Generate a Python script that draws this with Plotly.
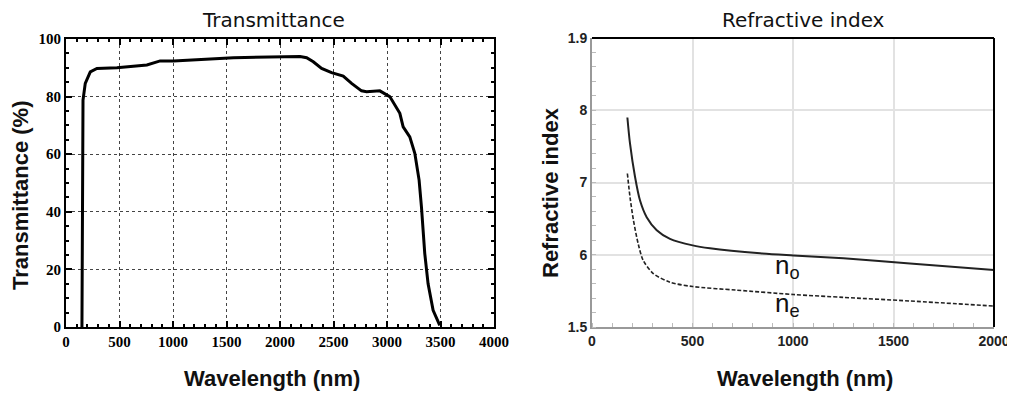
import plotly.graph_objects as go

# transmittance curve
wl_t = [149, 159, 180, 227, 289, 476, 756, 880, 1005, 1253, 1565, 2187, 2249, 2311,
        2389, 2482, 2591, 2669, 2762, 2809, 2933, 3026, 3120, 3151, 3213, 3260, 3300,
        3322, 3353, 3384, 3431, 3493]
trans = [0, 78.8, 84.6, 88.6, 89.8, 90.0, 91.0, 92.4, 92.4, 93.0, 93.5, 93.9, 93.5, 92.1,
         89.8, 88.3, 87.1, 84.6, 82.0, 81.7, 82.0, 80.0, 74.2, 69.5, 66.0, 60.3, 51.0,
         41.7, 25.5, 15.0, 5.8, 0.6]

# refractive index curves (right panel)
wl_o = [176, 189, 214, 239, 272, 322, 388, 501, 587, 836, 1002, 1251, 1582, 2000]
n_o = [1.790, 1.754, 1.708, 1.675, 1.652, 1.634, 1.622, 1.613, 1.609, 1.602, 1.599,
       1.595, 1.588, 1.579]
wl_e = [176, 189, 206, 230, 255, 305, 388, 501, 720, 1002, 1251, 1582, 2000]
n_e = [1.7125, 1.680, 1.648, 1.615, 1.592, 1.574, 1.562, 1.556, 1.551, 1.545, 1.541,
       1.536, 1.529]

x_ticks_t = [0, 500, 1000, 1500, 2000, 2500, 3000, 3500, 4000]
y_ticks_t = [0, 20, 40, 60, 80, 100]
x_ticks_n = [0, 500, 1000, 1500, 2000]
y_ticks_n = [1.5, 1.6, 1.7, 1.8, 1.9]
y_labels_n = ["1.5", "6", "7", "8", "1.9"]

W, H = 1007, 392   # page body adds an 8px offset


def px(x):
    return (x - 8) / W


def py(y):
    return 1 - (y - 8) / H


serif_bold = dict(family="Liberation Serif", size=15, color="black", weight="bold")
sans_bold = dict(family="Liberation Sans", size=14, color="#222", weight="bold")
title_font = dict(family="Liberation Sans", size=22, color="#111", weight="bold")
head = dict(family="DejaVu Sans", size=20, color="#111")

fig = go.Figure()
fig.add_trace(go.Scatter(x=wl_t, y=trans, mode="lines", line=dict(color="black", width=3),
                         xaxis="x", yaxis="y", showlegend=False))
fig.add_trace(go.Scatter(x=wl_o, y=n_o, mode="lines",
                         line=dict(color="#222", width=2, shape="spline", smoothing=0.8),
                         xaxis="x2", yaxis="y2", showlegend=False))
fig.add_trace(go.Scatter(x=wl_e, y=n_e, mode="lines",
                         line=dict(color="#222", width=1.6, dash="4px,2px", shape="spline", smoothing=0.8),
                         xaxis="x2", yaxis="y2", showlegend=False))

fig.update_layout(
    width=W, height=H, margin=dict(l=0, r=0, t=0, b=0),
    paper_bgcolor="white", plot_bgcolor="white",
    xaxis=dict(domain=[px(66), px(494)], range=[0, 4000], tickvals=x_ticks_t,
               showline=True, linecolor="black", linewidth=2, mirror="allticks",
               ticks="inside", ticklen=6, tickwidth=1.5, tickcolor="black",
               minor=dict(dtick=100, ticks="inside", ticklen=3, tickcolor="black"),
               showgrid=True, gridcolor="#444", griddash="dot", gridwidth=1,
               tickfont=serif_bold, zeroline=False, anchor="y", automargin=False),
    yaxis=dict(domain=[py(327), py(39)], range=[0, 100], tickvals=y_ticks_t,
               showline=True, linecolor="black", linewidth=2, mirror="allticks",
               ticks="inside", ticklen=6, tickwidth=1.5, tickcolor="black",
               minor=dict(dtick=5, ticks="inside", ticklen=3, tickcolor="black"),
               showgrid=True, gridcolor="#444", griddash="dot", gridwidth=1,
               tickfont=serif_bold, zeroline=False, anchor="x", automargin=False),
    xaxis2=dict(domain=[px(592), px(994)], range=[0, 2000], tickvals=x_ticks_n,
                showline=True, linecolor="#999", linewidth=2,
                ticks="", minor=dict(dtick=100, ticks="inside", ticklen=4, tickcolor="#bbb"),
                showgrid=True, gridcolor="#e2e2e2", gridwidth=1.5,
                tickfont=sans_bold, zeroline=False, anchor="y2", automargin=False),
    yaxis2=dict(domain=[py(327), py(38)], range=[1.5, 1.9], tickvals=y_ticks_n, ticktext=y_labels_n,
                showline=True, linecolor="#999", linewidth=2,
                ticks="", minor=dict(dtick=0.02, ticks="inside", ticklen=4, tickcolor="#bbb"),
                showgrid=True, gridcolor="#e2e2e2", gridwidth=1.5,
                tickfont=sans_bold, zeroline=False, anchor="x2", automargin=False),
)

# black top and right edges of the right frame
fig.add_shape(type="line", xref="x2 domain", yref="y2 domain", x0=0, x1=1, y0=1, y1=1,
              line=dict(color="black", width=2))
fig.add_shape(type="line", xref="x2 domain", yref="y2 domain", x0=1, x1=1, y0=0, y1=1,
              line=dict(color="black", width=2))

c = dict(xref="paper", yref="paper", xanchor="center", yanchor="middle", showarrow=False)
# panel headings
fig.add_annotation(text="Transmittance", x=px(273), y=py(20), font=head, **c)
fig.add_annotation(text="Refractive index", x=px(803), y=py(20), font=head, **c)

# axis titles
fig.add_annotation(text="Wavelength (nm)", x=px(272), y=py(378), font=title_font, **c)
fig.add_annotation(text="Wavelength (nm)", x=px(805), y=py(378), font=title_font, **c)
fig.add_annotation(text="Transmittance (%)", x=px(20), y=py(195), font=title_font, textangle=-90, **c)
fig.add_annotation(text="Refractive index", x=px(551), y=py(193), font=title_font, textangle=-90, **c)

# curve labels
lbl = dict(family="Liberation Sans", size=26, color="#111")
fig.add_annotation(text="n<sub>o</sub>", x=975, y=1.584, xref="x2", yref="y2",
                   showarrow=False, font=lbl)
fig.add_annotation(text="n<sub>e</sub>", x=975, y=1.531, xref="x2", yref="y2",
                   showarrow=False, font=lbl)

fig.write_html("out.html")
